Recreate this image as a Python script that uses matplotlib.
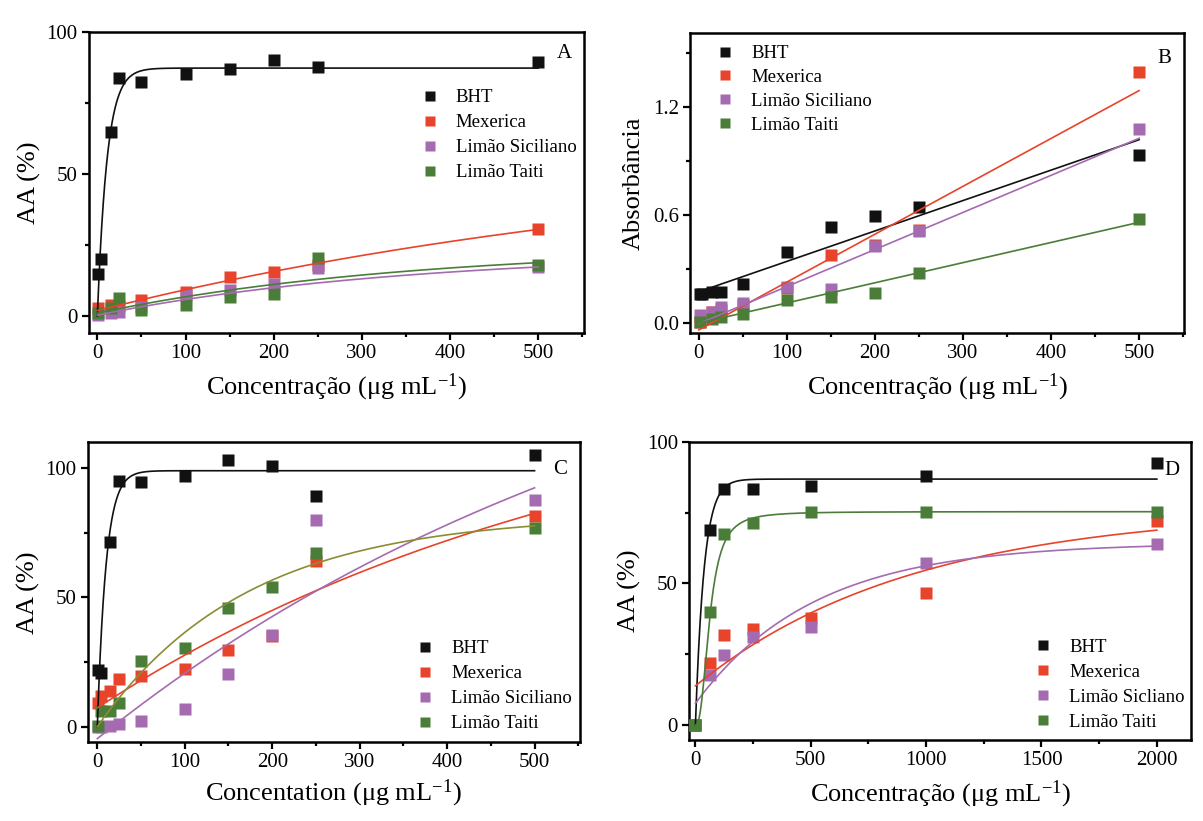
import numpy as np
import matplotlib
matplotlib.use("Agg")
import matplotlib.pyplot as plt
from matplotlib.ticker import MultipleLocator, FormatStrFormatter

plt.rcParams["font.family"] = ["Liberation Serif", "DejaVu Serif"]
plt.rcParams["mathtext.fontset"] = "custom"
plt.rcParams["mathtext.rm"] = "Liberation Serif"
plt.rcParams["mathtext.it"] = "Liberation Serif:italic"

# colours for each sample
c_bht = "#111111"
c_mex = "#e8432b"
c_sic = "#a56bb0"
c_tai = "#4a7d38"
c_tai_fit = "#8c8c34"

# ---- A: DPPH (%)
conc_a = [1, 4, 15, 25, 50, 100, 150, 200, 250, 500]
bht_a = [14.8, 20.2, 64.7, 83.8, 82.3, 85.3, 87.1, 90.2, 87.7, 89.4]
conc_a_ext = [1, 15, 25, 50, 100, 150, 200, 250, 500]
mex_a = [2.7, 3.9, 3.5, 5.6, 8.3, 13.6, 15.4, 18.0, 30.6]
sic_a = [0.4, 0.9, 1.5, 3.3, 7.4, 9.0, 11.3, 16.8, 17.4]
tai_a = [0.9, 2.7, 6.2, 2.1, 3.9, 6.8, 7.8, 20.3, 18.0]
# fitted curves: c + A*(1 - exp(-x/k))
fit_a = {"bht": (0.0, 87.3, 11.0), "mex": (1.9, 58.2, 740.0),
         "sic": (0.3, 22.5, 357.0), "tai": (1.0, 23.6, 357.0)}

# ---- B: absorbance
conc_b = [1, 4, 15, 25, 50, 100, 150, 200, 250, 500]
bht_b = [0.160, 0.160, 0.170, 0.170, 0.215, 0.394, 0.530, 0.594, 0.644, 0.932]
conc_b_ext = [1, 15, 25, 50, 100, 150, 200, 250, 500]
mex_b = [0.006, 0.061, 0.070, 0.100, 0.191, 0.376, 0.430, 0.515, 1.394]
sic_b = [0.045, 0.060, 0.090, 0.110, 0.200, 0.185, 0.426, 0.511, 1.074]
tai_b = [0.005, 0.020, 0.033, 0.048, 0.126, 0.144, 0.168, 0.278, 0.574]
# linear fits: (intercept, slope)
lin_b = {"bht": (0.172, 0.00169), "mex": (-0.04, 0.00266),
         "sic": (-0.005, 0.00206), "tai": (-0.002, 0.00112)}

# ---- C: AA (%)
conc_c = [1, 4, 15, 25, 50, 100, 150, 200, 250, 500]
bht_c = [21.8, 20.8, 71.3, 95.2, 94.8, 97.0, 103.2, 101.0, 89.3, 104.9]
mex_c = [9.2, 11.8, 13.7, 18.3, 19.5, 22.4, 29.8, 35.0, 63.9, 81.3]
sic_c = [0.0, 0.0, 0.3, 1.0, 2.4, 6.9, 20.5, 35.6, 80.0, 87.8]
tai_c = [0.2, 6.0, 6.0, 9.3, 25.3, 30.5, 45.9, 54.0, 67.2, 76.8]
fit_c = {"bht": (0.0, 99.0, 10.0), "mex": (7.3, 133.0, 600.0),
         "sic": (-4.6, 190.0, 700.0), "tai": (0.0, 82.0, 170.0)}

# ---- D: AA (%)
conc_d = [0, 62.5, 125, 250, 500, 1000, 2000]
bht_d = [0.0, 68.8, 83.2, 83.2, 84.4, 88.0, 92.4]
mex_d = [0.0, 22.0, 31.9, 34.0, 37.9, 46.5, 72.1]
sic_d = [0.0, 17.6, 24.7, 31.0, 34.7, 57.3, 63.8]
tai_d = [0.0, 39.8, 67.4, 71.4, 75.3, 75.3, 75.3]
fit_d = {"bht": (0.0, 86.8, 37.5), "mex": (13.8, 62.4, 940.0),
         "sic": (7.6, 56.7, 513.0)}
hill_d_tai = (75.3, 62.0, 2.5)  # Vmax, K, n

labels = ["BHT", "Mexerica", "Limão Siciliano", "Limão Taiti"]
labels_d = ["BHT", "Mexerica", "Limão Sicliano", "Limão Taiti"]

MS = 8.3


def expo(x, p):
    c, a, k = p
    return c + a * (1 - np.exp(-np.asarray(x) / k))


def hill(x, p):
    vmax, k, n = p
    x = np.asarray(x)
    return vmax * x ** n / (k ** n + x ** n)


def style_axes(ax, xlim, ylim, xmaj, xmin, ymaj, ymin):
    ax.set_xlim(*xlim)
    ax.set_ylim(*ylim)
    ax.xaxis.set_major_locator(MultipleLocator(xmaj))
    ax.xaxis.set_minor_locator(MultipleLocator(xmin))
    ax.yaxis.set_major_locator(MultipleLocator(ymaj))
    ax.yaxis.set_minor_locator(MultipleLocator(ymin))
    for s in ax.spines.values():
        s.set_linewidth(1.8)
    ax.tick_params(which="both", direction="out", width=1.6, labelsize=15,
                   top=False, right=False)
    ax.tick_params(which="major", length=5, pad=3)
    ax.tick_params(which="minor", length=3)


def legend(ax, labs, anchor, spacing=0.42):
    handles = [plt.Line2D([], [], ls="none", marker="s", ms=6.5, color=c,
                          mec="none")
               for c in [c_bht, c_mex, c_sic, c_tai]]
    ax.legend(handles, labs, loc="upper left", bbox_to_anchor=anchor,
              frameon=False, fontsize=13.5, handlelength=0.8,
              handletextpad=1.0, labelspacing=spacing, borderpad=0,
              borderaxespad=0)


fig = plt.figure(figsize=(12.03, 8.21), dpi=100)
ax_a = fig.add_axes([0.0736, 0.5944, 0.4120, 0.3666])
ax_b = fig.add_axes([0.5736, 0.5944, 0.4106, 0.3654])
ax_c = fig.add_axes([0.0729, 0.0959, 0.4089, 0.3654])
ax_d = fig.add_axes([0.5727, 0.0987, 0.4177, 0.3633])

xlabel = "Concentração (μg mL$^{\\mathrm{-1}}$)"

# A
xs = np.linspace(0, 500, 600)
ax_a.plot(conc_a, bht_a, "s", color=c_bht, ms=MS, mec="none", zorder=3)
ax_a.plot(conc_a_ext, mex_a, "s", color=c_mex, ms=MS, mec="none", zorder=3)
ax_a.plot(conc_a_ext, sic_a, "s", color=c_sic, ms=MS, mec="none", zorder=3)
ax_a.plot(conc_a_ext, tai_a, "s", color=c_tai, ms=MS, mec="none", zorder=3)
ax_a.plot(xs, expo(xs, fit_a["bht"]), color=c_bht, lw=1.2, zorder=4)
ax_a.plot(xs, expo(xs, fit_a["mex"]), color=c_mex, lw=1.2, zorder=4)
ax_a.plot(xs, expo(xs, fit_a["sic"]), color=c_sic, lw=1.2, zorder=4)
ax_a.plot(xs, expo(xs, fit_a["tai"]), color=c_tai, lw=1.2, zorder=4)
style_axes(ax_a, (-10, 552), (-6, 100), 100, 50, 50, 25)
ax_a.set_xlabel(xlabel, fontsize=19, labelpad=6)
ax_a.set_ylabel("AA (%)", fontsize=19, labelpad=4)
ax_a.text(0.96, 0.93, "A", transform=ax_a.transAxes, fontsize=15,
          ha="center", va="center")
legend(ax_a, labels, (0.673, 0.81))

# B
ax_b.plot(conc_b, bht_b, "s", color=c_bht, ms=MS, mec="none", zorder=3)
ax_b.plot(conc_b_ext, mex_b, "s", color=c_mex, ms=MS, mec="none", zorder=3)
ax_b.plot(conc_b_ext, sic_b, "s", color=c_sic, ms=MS, mec="none", zorder=3)
ax_b.plot(conc_b_ext, tai_b, "s", color=c_tai, ms=MS, mec="none", zorder=3)
for key, c in [("bht", c_bht), ("mex", c_mex), ("sic", c_sic), ("tai", c_tai)]:
    b0, b1 = lin_b[key]
    ax_b.plot(xs, b0 + b1 * xs, color=c, lw=1.2, zorder=4)
style_axes(ax_b, (-10, 551), (-0.057, 1.61), 100, 50, 0.6, 0.3)
ax_b.yaxis.set_major_formatter(FormatStrFormatter("%.1f"))
ax_b.set_xlabel(xlabel, fontsize=19, labelpad=6)
ax_b.set_ylabel("Absorbância", fontsize=19, labelpad=6)
ax_b.text(0.96, 0.915, "B", transform=ax_b.transAxes, fontsize=15,
          ha="center", va="center")
legend(ax_b, labels, (0.055, 0.96), spacing=0.36)

# C
ax_c.plot(conc_c, bht_c, "s", color=c_bht, ms=MS, mec="none", zorder=3)
ax_c.plot(conc_c, mex_c, "s", color=c_mex, ms=MS, mec="none", zorder=3)
ax_c.plot(conc_c, sic_c, "s", color=c_sic, ms=MS, mec="none", zorder=3)
ax_c.plot(conc_c, tai_c, "s", color=c_tai, ms=MS, mec="none", zorder=3)
ax_c.plot(xs, expo(xs, fit_c["bht"]), color=c_bht, lw=1.2, zorder=4)
ax_c.plot(xs, expo(xs, fit_c["mex"]), color=c_mex, lw=1.2, zorder=4)
ax_c.plot(xs, expo(xs, fit_c["sic"]), color=c_sic, lw=1.2, zorder=4)
ax_c.plot(xs, expo(xs, fit_c["tai"]), color=c_tai_fit, lw=1.2, zorder=4)
style_axes(ax_c, (-11, 551.5), (-6, 110), 100, 50, 50, 25)
ax_c.set_xlabel("Concentation (μg mL$^{\\mathrm{-1}}$)", fontsize=19, labelpad=4)
ax_c.set_ylabel("AA (%)", fontsize=19, labelpad=4)
ax_c.text(0.96, 0.91, "C", transform=ax_c.transAxes, fontsize=15,
          ha="center", va="center")
legend(ax_c, labels, (0.67, 0.34))

# D
xd = np.linspace(0, 2000, 1500)
ax_d.plot(conc_d, bht_d, "s", color=c_bht, ms=MS, mec="none", zorder=3)
ax_d.plot(conc_d, mex_d, "s", color=c_mex, ms=MS, mec="none", zorder=3)
ax_d.plot(conc_d, sic_d, "s", color=c_sic, ms=MS, mec="none", zorder=3)
ax_d.plot(conc_d, tai_d, "s", color=c_tai, ms=MS, mec="none", zorder=3)
ax_d.plot(xd, expo(xd, fit_d["bht"]), color=c_bht, lw=1.2, zorder=4)
ax_d.plot(xd, expo(xd, fit_d["mex"]), color=c_mex, lw=1.2, zorder=4)
ax_d.plot(xd, expo(xd, fit_d["sic"]), color=c_sic, lw=1.2, zorder=4)
ax_d.plot(xd, hill(xd, hill_d_tai), color=c_tai, lw=1.2, zorder=4)
style_axes(ax_d, (-28, 2150), (-5.3, 100), 500, 250, 50, 25)
ax_d.set_xlabel(xlabel, fontsize=19, labelpad=6)
ax_d.set_ylabel("AA (%)", fontsize=19, labelpad=4)
ax_d.text(0.962, 0.905, "D", transform=ax_d.transAxes, fontsize=15,
          ha="center", va="center")
legend(ax_d, labels_d, (0.69, 0.34))

fig.savefig("out.png", dpi=100, facecolor="white")
